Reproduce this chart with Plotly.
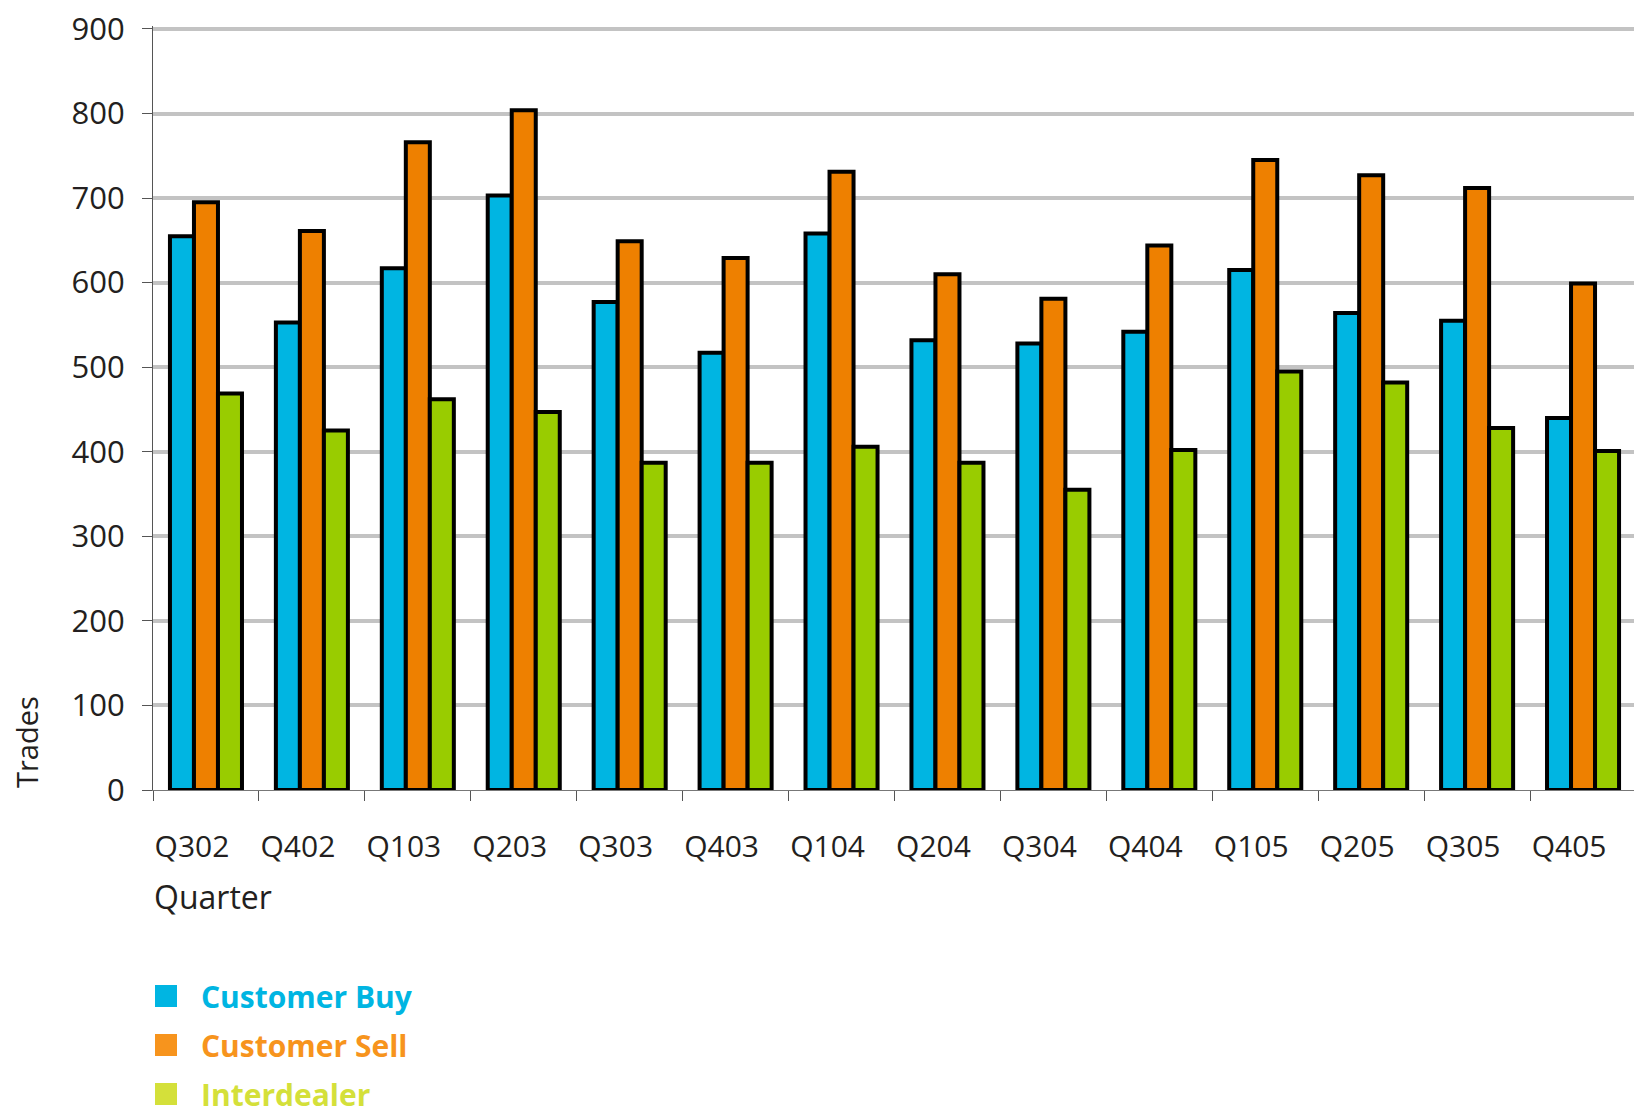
import plotly.graph_objects as go

quarters = ["Q302", "Q402", "Q103", "Q203", "Q303", "Q403", "Q104", "Q204",
            "Q304", "Q404", "Q105", "Q205", "Q305", "Q405"]
customer_buy = [655, 553, 617, 703, 577, 517, 658, 532, 528, 542, 615, 564, 555, 440]
customer_sell = [695, 661, 766, 804, 649, 629, 731, 610, 581, 644, 745, 727, 712, 599]
interdealer = [469, 425, 462, 447, 387, 387, 406, 387, 355, 402, 495, 482, 428, 401]
series_names = ["Customer Buy", "Customer Sell", "Interdealer"]
y_ticks = [0, 100, 200, 300, 400, 500, 600, 700, 800, 900]
x_title = "Quarter"
y_title = "Trades"

bar_colors = ["#00B5E2", "#EE8000", "#99CC00"]
legend_colors = ["#00B5E2", "#F7941D", "#D4E03A"]
FONT = "Open Sans"
TXT = "#231F20"

# page body has an 8px margin; figure coordinates are page coordinates minus 8
OFF = 8
W, H = 1642 - OFF, 1111 - OFF
L, R, T, B = 145, 6, 18, 321
plot_w = W - L - R
plot_h = H - T - B


def py(page_y):
    return (H - B - (page_y - OFF)) / plot_h


def px(page_x):
    return (page_x - OFF - L) / plot_w


fig = go.Figure()
for name, vals, col in zip(series_names, [customer_buy, customer_sell, interdealer], bar_colors):
    fig.add_trace(go.Bar(
        x=quarters, y=vals, name=name, showlegend=False,
        marker=dict(color=col, line=dict(color="#000000", width=4)),
    ))

fig.update_layout(
    width=W, height=H,
    margin=dict(l=L, r=R, t=T, b=B, pad=0, autoexpand=False),
    paper_bgcolor="white", plot_bgcolor="white",
    barmode="group", bargap=0.32, bargroupgap=0,
    font=dict(family=FONT, size=29, color=TXT),
)
fig.update_yaxes(
    range=[0, 903.5], tickvals=y_ticks, ticktext=[str(v) for v in y_ticks],
    showgrid=True, gridcolor="#C3C3C3", gridwidth=3.5,
    showline=True, linecolor="#555555", linewidth=1,
    ticks="outside", ticklen=10, tickcolor="#555555", tickwidth=1,
    zeroline=False, ticklabelstandoff=11, ticklabeloverflow="allow",
    automargin=False,
    tickfont=dict(family=FONT, size=31, color=TXT),
)
fig.update_xaxes(
    showline=True, linecolor="#777777", linewidth=1,
    ticks="outside", ticklen=10, tickcolor="#555555", tickwidth=1,
    tickson="boundaries", showgrid=False, automargin=False,
    ticklabelshift=-14, ticklabelstandoff=30,
    tickfont=dict(family=FONT, size=30, color=TXT),
)

# axis titles
fig.add_annotation(text=x_title, xref="paper", yref="paper", x=px(152), y=py(896),
                   xanchor="left", yanchor="middle", showarrow=False,
                   font=dict(family=FONT, size=32, color=TXT))
fig.add_annotation(text=y_title, xref="paper", yref="paper", x=px(26), y=py(790),
                   xanchor="center", yanchor="bottom", textangle=-90, showarrow=False,
                   font=dict(family=FONT, size=29, color=TXT))

# manual legend
row_centers = [996, 1045, 1094]
for name, col, yc in zip(series_names, legend_colors, row_centers):
    yp = py(yc)
    fig.add_shape(type="rect", xref="paper", yref="paper",
                  xsizemode="pixel", ysizemode="pixel", xanchor=px(155), yanchor=yp,
                  x0=0, x1=22, y0=-11, y1=11, fillcolor=col, line=dict(width=0))
    fig.add_annotation(text="<b>" + name + "</b>", xref="paper", yref="paper",
                       x=px(199), y=yp, xanchor="left", yanchor="middle",
                       showarrow=False, font=dict(family=FONT, size=30, color=col))

fig.write_html("out.html")
